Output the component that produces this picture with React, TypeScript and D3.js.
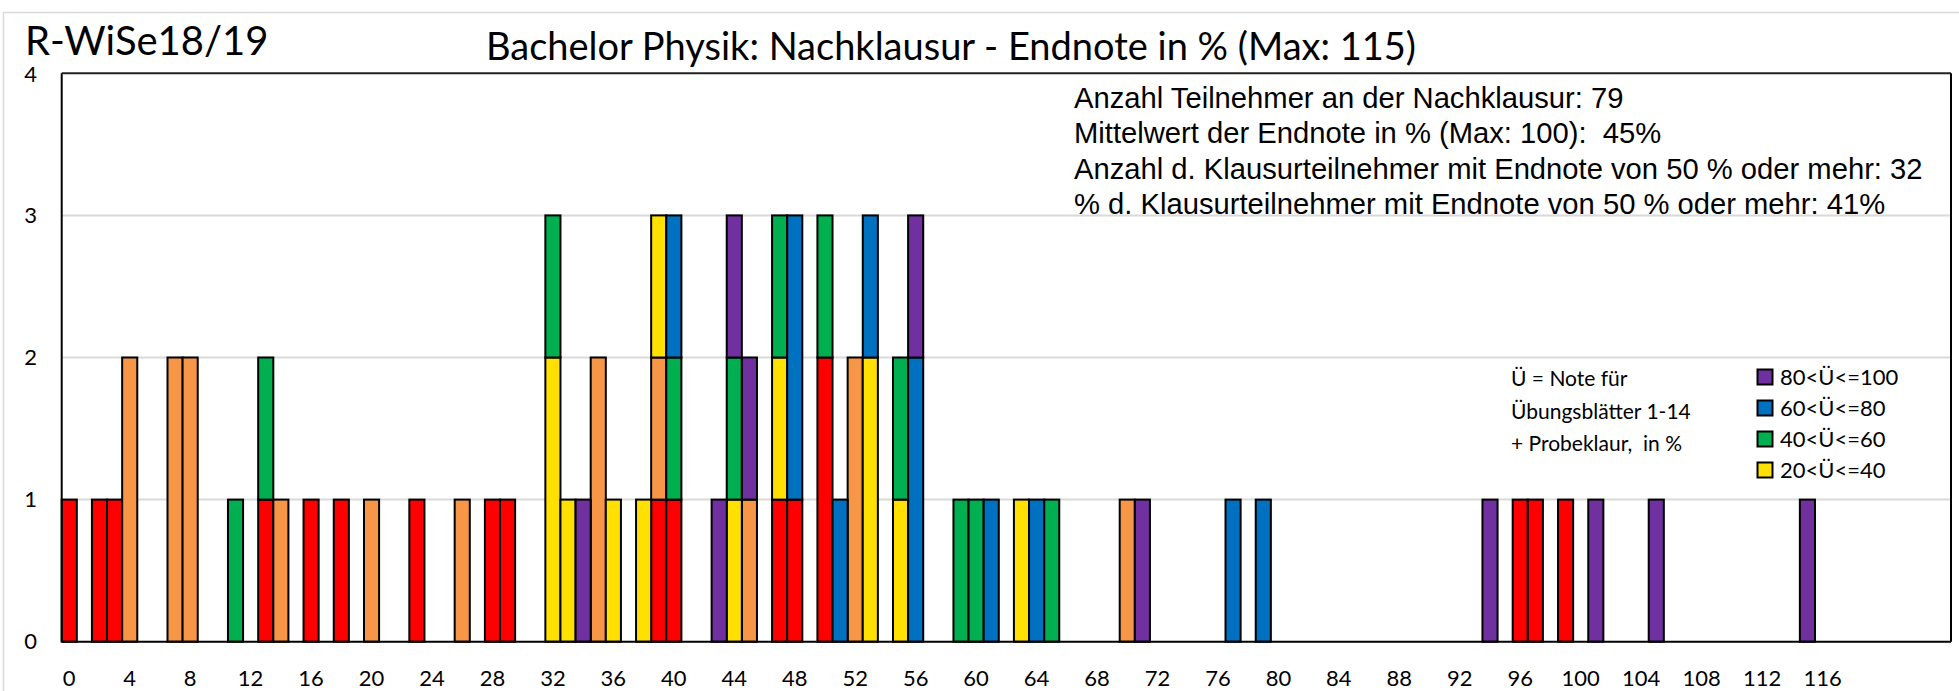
import * as d3 from "d3";

const W = 1959;
const H = 691;

// Endnote-Kategorien 0..124, beschriftet wird nur jede vierte
const categories = d3.range(0, 125);
const tickLabels = [0, 4, 8, 12, 16, 20, 24, 28, 32, 36, 40, 44, 48, 52, 56, 60, 64, 68, 72, 76, 80, 84, 88, 92, 96, 100, 104, 108, 112, 116];
const yTicks = [0, 1, 2, 3, 4];

// [Endnote in %, Anzahl] je Gruppe der Übungsnote Ü
const ueRot: [number, number][] = [[0, 1], [2, 1], [3, 1], [13, 1], [16, 1], [18, 1], [23, 1], [28, 1], [29, 1], [39, 1], [40, 1], [47, 1], [48, 1], [50, 2], [96, 1], [97, 1], [99, 1]];
const ueOrange: [number, number][] = [[4, 2], [7, 2], [8, 2], [14, 1], [20, 1], [26, 1], [35, 2], [39, 1], [45, 1], [52, 2], [70, 1]];
const ue20bis40: [number, number][] = [[32, 2], [33, 1], [36, 1], [38, 1], [39, 1], [44, 1], [47, 1], [53, 2], [55, 1], [63, 1]];
const ue40bis60: [number, number][] = [[11, 1], [13, 1], [32, 1], [40, 1], [44, 1], [47, 1], [50, 1], [55, 1], [59, 1], [60, 1], [65, 1]];
const ue60bis80: [number, number][] = [[40, 1], [48, 2], [51, 1], [53, 1], [56, 2], [61, 1], [64, 1], [77, 1], [79, 1]];
const ue80bis100: [number, number][] = [[34, 1], [43, 1], [44, 1], [45, 1], [56, 1], [71, 1], [94, 1], [101, 1], [105, 1], [115, 1]];

const seriesKeys = ["rot", "orange", "20-40", "40-60", "60-80", "80-100"];
const seriesData = [ueRot, ueOrange, ue20bis40, ue40bis60, ue60bis80, ue80bis100];
const seriesColors = ["#FF0000", "#F79646", "#FFE000", "#00B050", "#0070C0", "#7030A0"];

const legendLabels = ["80<Ü<=100", "60<Ü<=80", "40<Ü<=60", "20<Ü<=40"];
const legendColors = ["#7030A0", "#0070C0", "#00B050", "#FFE000"];

const infoLines = [
  "Anzahl Teilnehmer an der Nachklausur: 79",
  "Mittelwert der Endnote in % (Max: 100):  45%",
  "Anzahl d. Klausurteilnehmer mit Endnote von 50 % oder mehr: 32",
  "% d. Klausurteilnehmer mit Endnote von 50 % oder mehr: 41%",
];
const noteLines = ["Ü = Note für", "Übungsblätter 1-14", "+ Probeklaur,  in %"];

const left = 61.7, right = 1951, top = 73.3, bottom = 641.7;

export default function App() {
  const table = categories.map((c) => {
    const row: Record<string, number> = { cat: c };
    seriesKeys.forEach((k, i) => {
      const hit = seriesData[i].find((d) => d[0] === c);
      row[k] = hit ? hit[1] : 0;
    });
    return row;
  });
  const stacked = d3.stack<Record<string, number>>().keys(seriesKeys)(table);

  const x = d3.scaleBand<string>().domain(categories.map(String)).range([left, right]).padding(0);
  const y = d3.scaleLinear().domain([0, 4]).range([bottom, top]);

  const calibri = "Lato, 'Open Sans', sans-serif";

  return (
    <svg width={W} height={H} style={{ position: "absolute", left: 0, top: 0, background: "#fff" }}>
      <rect x={3.5} y={12.5} width={W} height={H} fill="#fff" stroke="#D9D9D9" strokeWidth={1.5} />

      {yTicks.filter((t) => t > 0 && t < 4).map((t) => (
        <line key={t} x1={left} x2={right} y1={y(t)} y2={y(t)} stroke="#D9D9D9" strokeWidth={2} />
      ))}

      {stacked.map((s, i) => (
        <g key={s.key} fill={seriesColors[i]} stroke="#000" strokeWidth={2}>
          {s.filter((d) => d[1] > d[0]).map((d) => (
            <rect key={d.data.cat} x={x(String(d.data.cat))} y={y(d[1])} width={x.bandwidth()} height={y(d[0]) - y(d[1])} />
          ))}
        </g>
      ))}

      <line x1={left} x2={right} y1={bottom} y2={bottom} stroke="#000" strokeWidth={2} />
      <line x1={left} x2={left} y1={top} y2={bottom} stroke="#000" strokeWidth={2} />
      <line x1={left} x2={right} y1={top} y2={top} stroke="#222" strokeWidth={2} />
      <line x1={right} x2={right} y1={top} y2={bottom} stroke="#000" strokeWidth={2} />

      {yTicks.map((t) => (
        <text key={t} x={37} y={y(t) + (t === 4 ? 9 : 7.5)} textAnchor="end" fontFamily={calibri} fontSize={22} fill="#000">{t}</text>
      ))}
      {tickLabels.map((t) => (
        <text key={t} x={(x(String(t)) ?? 0) + x.bandwidth() / 2} y={686} textAnchor="middle" fontFamily={calibri} fontSize={22} fill="#000">{t}</text>
      ))}

      <text x={25} y={55} fontFamily={calibri} fontSize={40} fill="#000">R-WiSe18/19</text>
      <text x={951} y={60} textAnchor="middle" fontFamily={calibri} fontSize={38} fill="#000">Bachelor Physik: Nachklausur - Endnote in % (Max: 115)</text>

      {infoLines.map((l, i) => (
        <text key={i} x={1074} y={107.5 + i * 35.5} fontFamily="'Liberation Sans', Arial, sans-serif" fontSize={29.2} fill="#000" style={{ whiteSpace: "pre" }}>{l}</text>
      ))}

      {noteLines.map((l, i) => (
        <text key={i} x={1511} y={386 + i * 32.5} fontFamily={calibri} fontSize={21} fill="#000" style={{ whiteSpace: "pre" }}>{l}</text>
      ))}

      {legendLabels.map((l, i) => (
        <g key={l} transform={`translate(1757.5,${377 + i * 31})`}>
          <rect x={0} y={-7.5} width={15} height={15} fill={legendColors[i]} stroke="#000" strokeWidth={2} />
          <text x={22.5} y={8} fontFamily={calibri} fontSize={22} fill="#000">{l}</text>
        </g>
      ))}
    </svg>
  );
}
